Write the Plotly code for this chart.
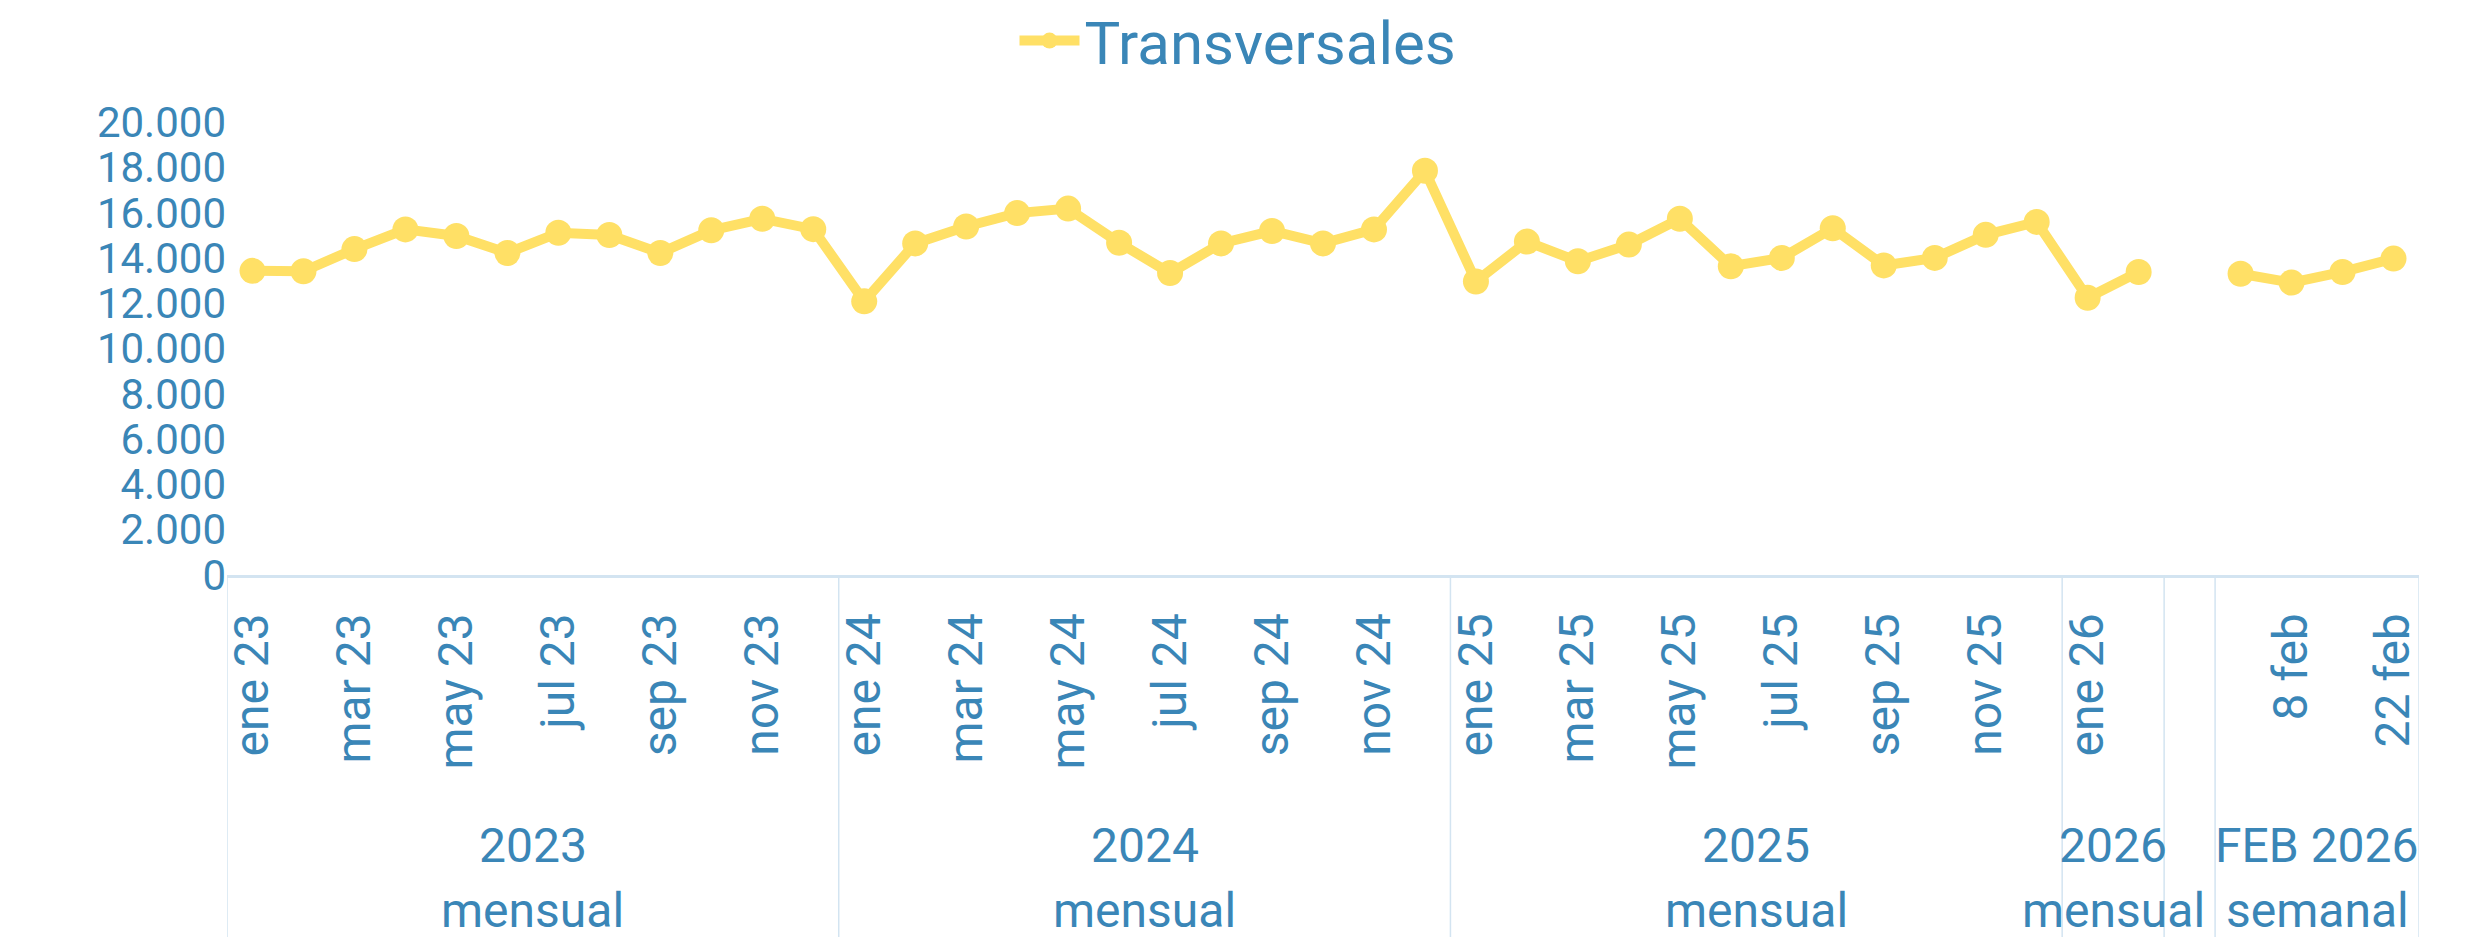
import plotly.graph_objects as go

# categories on the x axis, in order
months_2023 = ["ene 23", "feb 23", "mar 23", "abr 23", "may 23", "jun 23",
               "jul 23", "ago 23", "sep 23", "oct 23", "nov 23", "dic 23"]
months_2024 = ["ene 24", "feb 24", "mar 24", "abr 24", "may 24", "jun 24",
               "jul 24", "ago 24", "sep 24", "oct 24", "nov 24", "dic 24"]
months_2025 = ["ene 25", "feb 25", "mar 25", "abr 25", "may 25", "jun 25",
               "jul 25", "ago 25", "sep 25", "oct 25", "nov 25", "dic 25"]
months_2026 = ["ene 26", "feb 26"]
gap_cat = [" "]
weeks_feb_2026 = ["1 feb", "8 feb", "15 feb", "22 feb"]

# series values
vals_2023 = [13440, 13420, 14400, 15270, 14980, 14230, 15120, 15020, 14230, 15230, 15740, 15280]
vals_2024 = [12090, 14650, 15400, 15990, 16190, 14680, 13340, 14650, 15200, 14650, 15270, 17860]
vals_2025 = [12970, 14730, 13860, 14600, 15740, 13640, 14010, 15320, 13680, 14010, 15030, 15600]
vals_2026 = [12250, 13390]
vals_gap = [None]
vals_weeks = [13310, 12920, 13390, 13980]

# group labels under the axis
group_years = ["2023", "2024", "2025", "2026", "FEB 2026"]
group_freq = ["mensual", "mensual", "mensual", "mensual", "semanal"]

BLUE = "#3A86B7"
YELLOW = "#FFE066"
DIVIDER = "#D3E4F1"
FONT = "Roboto"

categories = months_2023 + months_2024 + months_2025 + months_2026 + gap_cat + weeks_feb_2026
values = vals_2023 + vals_2024 + vals_2025 + vals_2026 + vals_gap + vals_weeks

fig = go.Figure()
fig.add_trace(go.Scatter(
    x=categories, y=values, name="Transversales",
    mode="lines+markers",
    line=dict(color=YELLOW, width=10),
    marker=dict(color=YELLOW, size=26),
    connectgaps=False,
))

# every other category gets a tick label
tick_vals = categories[::2]
tick_text = [c.strip() for c in tick_vals]

# group blocks: the empty gap column sits between 2026 and FEB 2026
blocks = [(0, 12), (12, 24), (24, 36), (36, 38), (39, 43)]
bounds = [-0.5, 11.5, 23.5, 35.5, 37.5, 38.5, 42.5]

for xb in bounds:
    fig.add_shape(type="line", xref="x", yref="paper",
                  x0=xb, x1=xb, y0=0, y1=-0.8,
                  line=dict(color=DIVIDER, width=1.5))

for (start, end), yr, fq in zip(blocks, group_years, group_freq):
    mid = (start + end - 1) / 2
    fig.add_annotation(x=mid, y=-0.597, xref="x", yref="paper",
                       text=yr, showarrow=False, yanchor="middle",
                       font=dict(size=48, color=BLUE, family=FONT))
    fig.add_annotation(x=mid, y=-0.741, xref="x", yref="paper",
                       text=fq, showarrow=False, yanchor="middle",
                       font=dict(size=48, color=BLUE, family=FONT))

fig.update_layout(
    width=2460, height=930,
    margin=dict(l=219, r=49, t=109, b=363),
    paper_bgcolor="white", plot_bgcolor="white",
    separators=",.",
    font=dict(family=FONT, color=BLUE),
    showlegend=True,
    legend=dict(orientation="h", xref="container", yref="container",
                x=0.5, xanchor="center", y=0.965, yanchor="middle",
                font=dict(size=60, color=BLUE, family=FONT), itemwidth=60),
    xaxis=dict(
        type="category", categoryorder="array", categoryarray=categories,
        range=[-0.5, len(categories) - 0.5],
        tickmode="array", tickvals=tick_vals, ticktext=tick_text,
        tickangle=-90, tickfont=dict(size=48, color=BLUE, family=FONT),
        showline=True, linecolor=DIVIDER, linewidth=3,
        showgrid=False, zeroline=False, ticks="", ticklabelstandoff=16,
    ),
    yaxis=dict(
        range=[0, 20000], dtick=2000, tickformat=",d",
        tickfont=dict(size=42, color=BLUE, family=FONT),
        showgrid=False, zeroline=False, showline=False, ticks="",
    ),
)

fig.write_html("out.html")
